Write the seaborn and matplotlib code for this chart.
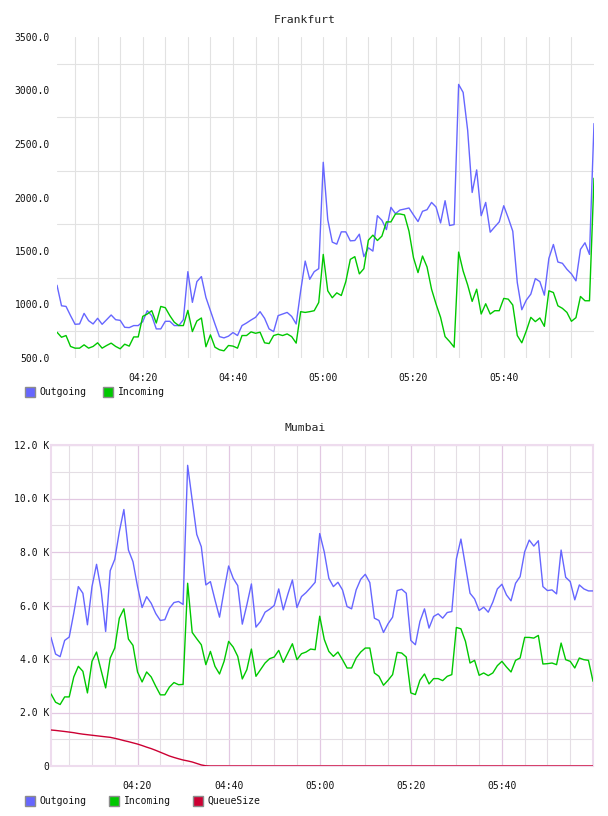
import matplotlib
matplotlib.use("Agg")
import matplotlib.pyplot as plt
from matplotlib.patches import Rectangle
from matplotlib.ticker import FixedLocator
import numpy as np
import pandas as pd
import seaborn as sns

# ---------------- data ----------------
minutes = list(range(1, 121))  # minutes after 04:00, one sample per minute

fra_outgoing = [1180, 988, 982, 896, 815, 818, 917, 849, 818, 871,
                815, 858, 902, 858, 852, 787, 784, 803, 803, 840,
                942, 895, 772, 772, 843, 843, 803, 803, 858, 1307,
                1020, 1214, 1261, 1066, 942, 818, 700, 688, 704, 738,
                710, 803, 827, 855, 880, 933, 871, 772, 747, 896,
                911, 926, 889, 818, 1128, 1406, 1236, 1307, 1335, 2329,
                1793, 1583, 1564, 1679, 1679, 1595, 1598, 1657, 1447, 1530,
                1499, 1830, 1787, 1700, 1908, 1849, 1883, 1892, 1902, 1837,
                1775, 1871, 1886, 1954, 1911, 1762, 1970, 1738, 1747, 3057,
                2982, 2629, 2047, 2258, 1830, 1954, 1676, 1725, 1772, 1923,
                1809, 1685, 1205, 951, 1041, 1097, 1242, 1214, 1087, 1431,
                1561, 1397, 1385, 1329, 1286, 1221, 1515, 1577, 1468, 2691]

fra_incoming = [741, 694, 710, 608, 592, 592, 623, 592, 608, 642,
                592, 617, 639, 608, 586, 629, 611, 697, 697, 889,
                911, 942, 827, 982, 970, 896, 834, 803, 803, 945,
                747, 846, 874, 605, 716, 601, 577, 567, 617, 611,
                592, 710, 710, 744, 731, 741, 642, 635, 710, 722,
                710, 725, 700, 639, 933, 926, 933, 942, 1019, 1468,
                1128, 1063, 1109, 1084, 1214, 1422, 1447, 1286, 1335, 1601,
                1648, 1598, 1639, 1772, 1772, 1846, 1846, 1837, 1685, 1437,
                1298, 1453, 1351, 1143, 1004, 880, 700, 654, 601, 1490,
                1313, 1183, 1029, 1143, 911, 1007, 911, 942, 942, 1057,
                1050, 995, 710, 642, 753, 880, 840, 874, 796, 1128,
                1112, 988, 964, 926, 843, 877, 1075, 1035, 1035, 2180]

mum_outgoing = [4807, 4186, 4087, 4695, 4820, 5713, 6707, 6458, 5279, 6707,
                7539, 6583, 5030, 7303, 7725, 8756, 9588, 8073, 7638, 6707,
                5924, 6330, 6082, 5700, 5440, 5470, 5895, 6110, 6150, 6040,
                11240, 9936, 8657, 8197, 6769, 6893, 6210, 5564, 6558, 7477,
                7017, 6744, 5303, 6024, 6806, 5192, 5403, 5750, 5862, 5999,
                6620, 5837, 6421, 6955, 5924, 6334, 6483, 6670, 6868, 8690,
                8000, 7017, 6707, 6868, 6583, 5962, 5875, 6583, 6980, 7166,
                6856, 5527, 5440, 4993, 5316, 5564, 6558, 6607, 6458, 4695,
                4533, 5403, 5875, 5155, 5589, 5688, 5527, 5738, 5775, 7738,
                8483, 7477, 6458, 6247, 5813, 5937, 5750, 6123, 6620, 6794,
                6396, 6173, 6831, 7079, 8011, 8446, 8222, 8421, 6707, 6558,
                6583, 6434, 8073, 7055, 6893, 6210, 6769, 6620, 6545, 6545]

mum_incoming = [2695, 2385, 2298, 2583, 2583, 3329, 3726, 3540, 2732, 3912,
                4260, 3577, 2919, 4037, 4410, 5527, 5875, 4744, 4509, 3515,
                3142, 3515, 3329, 2981, 2660, 2660, 2950, 3120, 3040, 3050,
                6831, 4993, 4757, 4533, 3788, 4285, 3726, 3440, 3912, 4658,
                4446, 4099, 3254, 3602, 4372, 3353, 3602, 3850, 4012, 4074,
                4322, 3875, 4223, 4570, 3974, 4198, 4260, 4372, 4347, 5600,
                4730, 4285, 4099, 4260, 3974, 3664, 3664, 4037, 4260, 4410,
                4410, 3478, 3353, 3018, 3204, 3416, 4248, 4223, 4074, 2732,
                2670, 3204, 3440, 3068, 3267, 3267, 3192, 3353, 3416, 5179,
                5129, 4658, 3850, 3950, 3391, 3478, 3378, 3478, 3751, 3912,
                3701, 3515, 3950, 4037, 4807, 4807, 4782, 4881, 3813, 3826,
                3850, 3788, 4596, 3974, 3912, 3664, 4037, 3974, 3950, 3167]

mum_queue = [1346, 1330, 1310, 1290, 1268, 1245, 1215, 1190, 1170, 1150,
             1130, 1110, 1090, 1072, 1035, 995, 950, 910, 865, 820,
             765, 705, 650, 585, 515, 445, 374, 320, 270, 224,
             190, 150, 95, 40, 8, 0, 0, 0, 0, 0,
             0, 0, 0, 0, 0, 0, 0, 0, 0, 0,
             0, 0, 0, 0, 0, 0, 0, 0, 0, 0,
             0, 0, 0, 0, 0, 0, 0, 0, 0, 0,
             0, 0, 0, 0, 0, 0, 0, 0, 0, 0,
             0, 0, 0, 0, 0, 0, 0, 0, 0, 0,
             0, 0, 0, 0, 0, 0, 0, 0, 0, 0,
             0, 0, 0, 0, 0, 0, 0, 0, 0, 0,
             0, 0, 0, 0, 0, 0, 0, 0, 0, 0]

x_major = [20, 40, 60, 80, 100]
x_labels = ["04:20", "04:40", "05:00", "05:20", "05:40"]
x_minor = [5, 10, 15, 25, 30, 35, 45, 50, 55, 65, 70, 75, 85, 90, 95, 105, 110, 115]

fra_yticks = [500, 1000, 1500, 2000, 2500, 3000, 3500]
fra_ylabels = ["500.0", "1000.0", "1500.0", "2000.0", "2500.0", "3000.0", "3500.0"]
fra_ygrid = [750, 1250, 1750, 2250, 2750, 3250]

mum_yticks = [0, 2000, 4000, 6000, 8000, 10000, 12000]
mum_ylabels = ["0", "2.0 K", "4.0 K", "6.0 K", "8.0 K", "10.0 K", "12.0 K"]
mum_yminor = [1000, 3000, 5000, 7000, 9000, 11000]

colors = {"Outgoing": "#6666ff", "Incoming": "#00c800", "QueueSize": "#cc0033"}

# ---------------- style ----------------
sns.set_theme(style="white")
plt.rcParams['font.family'] = ['DejaVu Sans Mono', 'DejaVu Sans']

W, H = 608, 816
fig = plt.figure(figsize=(W / 100, H / 100), dpi=100)
fig.patch.set_facecolor("white")

ax1 = fig.add_axes([57 / W, 1 - 358 / H, 537 / W, 321 / H])
ax2 = fig.add_axes([51 / W, 1 - 766 / H, 542 / W, 321 / H])

df1 = pd.DataFrame({
    "minute": minutes * 2,
    "value": fra_outgoing + fra_incoming,
    "series": ["Outgoing"] * len(minutes) + ["Incoming"] * len(minutes),
})
df2 = pd.DataFrame({
    "minute": minutes * 3,
    "value": mum_outgoing + mum_incoming + mum_queue,
    "series": ["Outgoing"] * len(minutes) + ["Incoming"] * len(minutes) + ["QueueSize"] * len(minutes),
})

sns.lineplot(data=df1, x="minute", y="value", hue="series", palette=colors,
             ax=ax1, legend=False, linewidth=1.0, zorder=3)
sns.lineplot(data=df2, x="minute", y="value", hue="series", palette=colors,
             ax=ax2, legend=False, linewidth=1.0, zorder=3)

tick_font = dict(fontsize=7, color="#111111")

# ---- Frankfurt axes ----
ax1.set_xlim(1, 120)
ax1.set_ylim(500, 3500)
for s in ax1.spines.values():
    s.set_visible(False)
ax1.xaxis.set_major_locator(FixedLocator(x_major))
ax1.xaxis.set_minor_locator(FixedLocator(x_minor))
ax1.set_xticklabels(x_labels, **tick_font)
ax1.yaxis.set_major_locator(FixedLocator(fra_yticks))
ax1.yaxis.set_minor_locator(FixedLocator(fra_ygrid))
ax1.set_yticklabels(fra_ylabels, **tick_font)
ax1.tick_params(axis="both", which="both", length=0)
ax1.tick_params(axis="x", pad=11)
ax1.tick_params(axis="y", pad=5)
ax1.grid(False)
ax1.grid(True, axis="x", which="both", color="#e2e2e2", linewidth=0.8, zorder=0)
ax1.grid(True, axis="y", which="minor", color="#e2e2e2", linewidth=0.8, zorder=0)
ax1.set_xlabel("")
ax1.set_ylabel("")
ax1.set_axisbelow(True)

# ---- Mumbai axes ----
ax2.set_xlim(1, 120)
ax2.set_ylim(0, 12000)
for s in ax2.spines.values():
    s.set_color("#eedcee")
    s.set_linewidth(1.5)
ax2.xaxis.set_major_locator(FixedLocator(x_major))
ax2.xaxis.set_minor_locator(FixedLocator(x_minor))
ax2.set_xticklabels(x_labels, **tick_font)
ax2.yaxis.set_major_locator(FixedLocator(mum_yticks))
ax2.yaxis.set_minor_locator(FixedLocator(mum_yminor))
ax2.set_yticklabels(mum_ylabels, **tick_font)
ax2.tick_params(axis="both", which="both", length=0)
ax2.tick_params(axis="x", pad=11)
ax2.tick_params(axis="y", pad=1)
ax2.grid(False)
ax2.grid(True, axis="both", which="major", color="#e2c8e2", linewidth=0.9, zorder=0)
ax2.grid(True, axis="both", which="minor", color="#e4dee4", linewidth=0.8, zorder=0)
ax2.set_xlabel("")
ax2.set_ylabel("")
ax2.set_axisbelow(True)

# ---- titles ----
fig.text(305 / W, 1 - 20 / H, "Frankfurt", ha="center", va="center", fontsize=8.2, color="#222222")
fig.text(305 / W, 1 - 428 / H, "Mumbai", ha="center", va="center", fontsize=8.2, color="#222222")


# ---- legends ----
def legend_item(x_px, y_px, name, text_x_px):
    fig.add_artist(Rectangle((x_px / W, 1 - (y_px + 5.5) / H), 10.5 / W, 10.5 / H,
                             transform=fig.transFigure, facecolor=colors[name],
                             edgecolor="#8c8c8c", linewidth=1.0))
    fig.text(text_x_px / W, 1 - y_px / H, name, ha="left", va="center",
             fontsize=7, color="#111111")


legend_item(24.5, 392, "Outgoing", 39)
legend_item(102.5, 392, "Incoming", 118)

legend_item(24.5, 800.5, "Outgoing", 39)
legend_item(108.5, 800.5, "Incoming", 124)
legend_item(192.5, 800.5, "QueueSize", 207)

fig.savefig("out.png", dpi=100, facecolor="white")
